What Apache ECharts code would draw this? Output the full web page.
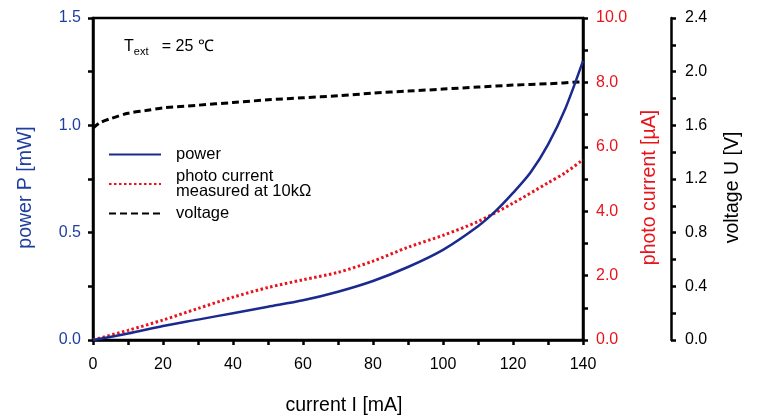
<!DOCTYPE html>
<html><head><meta charset="utf-8">
<script src="https://cdn.jsdelivr.net/npm/echarts@6/dist/echarts.min.js"></script>
<style>html,body{margin:0;padding:0;background:#fff}#c{width:759px;height:416px}</style>
</head><body><div id="c"></div>
<script>
// current I [mA]
const powerI   = [0, 10, 20, 30, 40, 50, 60, 70, 80, 90, 100, 110, 115, 120, 125, 130, 135, 140];
const powerP   = [0, 0.03, 0.065, 0.095, 0.125, 0.155, 0.185, 0.225, 0.275, 0.34, 0.42, 0.53, 0.6, 0.685, 0.78, 0.91, 1.08, 1.30];
const photoI   = [0, 10, 20, 30, 40, 50, 60, 70, 80, 90, 100, 110, 120, 130, 135, 140];
const photoA   = [0, 0.3, 0.62, 0.98, 1.33, 1.63, 1.87, 2.1, 2.45, 2.88, 3.25, 3.68, 4.25, 4.88, 5.2, 5.6];
const voltI    = [0, 2, 5, 10, 15, 20, 30, 40, 50, 60, 70, 80, 90, 100, 110, 120, 130, 140];
const voltU    = [1.58, 1.62, 1.65, 1.69, 1.71, 1.73, 1.75, 1.77, 1.79, 1.805, 1.82, 1.84, 1.855, 1.87, 1.885, 1.9, 1.91, 1.925];

const pair = (xs, ys) => xs.map((x, i) => [x, ys[i]]);
const BLUE = '#1f3f9e', NAVY = '#1b2a8f', RED = '#e8141c', FONT = 'Liberation Sans, Arial, sans-serif';
const axisLine = {show: true, lineStyle: {color: '#000', width: 2.5}};
const tick = {show: true, inside: false, length: 5, lineStyle: {color: '#000', width: 2.5}};
const minor = {show: true, splitNumber: 2, length: 5, lineStyle: {color: '#000', width: 2.5}};
const nameFont = 19.5;

const chart = echarts.init(document.getElementById('c'));
chart.setOption({
  animation: false,
  grid: {left: 93, right: 176, top: 18, bottom: 76, show: true, borderColor: '#000', borderWidth: 2.5,
         backgroundColor: 'transparent', outerBoundsMode: 'none', containLabel: false},
  textStyle: {fontFamily: FONT},
  legend: {
    orient: 'vertical', left: 103, top: 141, itemWidth: 52, itemHeight: 10, itemGap: 5,
    itemStyle: {opacity: 0},
    textStyle: {fontSize: 16.5, color: '#000', fontFamily: FONT, lineHeight: 15, padding: [0, 0, 0, 10]},
    data: ['power', 'photo current\nmeasured at 10kΩ', 'voltage']
  },
  graphic: [{
    type: 'text', left: 124, top: 39,
    style: {
      rich: {
        t: {fontSize: 16, fontFamily: FONT, fill: '#000'},
        s: {fontSize: 11, fontFamily: FONT, fill: '#000', padding: [9, 0, 0, 0]}
      },
      text: '{t|T}{s|ext}{t|   = 25 ℃}'
    }
  }],
  xAxis: {
    type: 'value', min: 0, max: 140, interval: 20,
    name: 'current I [mA]', nameLocation: 'middle', nameGap: 56,
    nameTextStyle: {fontSize: nameFont, color: '#000', fontFamily: FONT, padding: [0, 0, 0, 12]},
    axisLine, axisTick: tick, minorTick: minor, splitLine: {show: false},
    axisLabel: {fontSize: 16, color: '#000', margin: 17, fontFamily: FONT}
  },
  yAxis: [{
    type: 'value', min: 0, max: 1.5, interval: 0.5, position: 'left',
    name: 'power P [mW]', nameLocation: 'middle', nameGap: 57, nameRotate: 90,
    nameTextStyle: {fontSize: nameFont, color: BLUE, fontFamily: FONT, padding: [0, 17, 0, 0]},
    axisLine, axisTick: tick, minorTick: minor, splitLine: {show: false},
    axisLabel: {fontSize: 16, color: BLUE, margin: 12, fontFamily: FONT, formatter: v => v.toFixed(1)}
  }, {
    type: 'value', min: 0, max: 10, interval: 2, position: 'right',
    name: 'photo current [µA]', nameLocation: 'middle', nameGap: 57, nameRotate: 90,
    nameTextStyle: {fontSize: nameFont, color: RED, fontFamily: FONT, padding: [0, 17, 0, 0]},
    axisLine, axisTick: tick, minorTick: minor, splitLine: {show: false},
    axisLabel: {fontSize: 16, color: RED, margin: 13, fontFamily: FONT, formatter: v => v.toFixed(1)}
  }, {
    type: 'value', min: 0, max: 2.4, interval: 0.4, position: 'right', offset: 88,
    name: 'voltage U [V]', nameLocation: 'middle', nameGap: 52, nameRotate: 90,
    nameTextStyle: {fontSize: nameFont, color: '#000', fontFamily: FONT, padding: [0, 17, 0, 0]},
    axisLine, axisTick: tick, minorTick: minor, splitLine: {show: false},
    axisLabel: {fontSize: 16, color: '#000', margin: 14, fontFamily: FONT, formatter: v => v.toFixed(1)}
  }],
  series: [{
    name: 'power', type: 'line', yAxisIndex: 0, smooth: 0.3, symbol: 'none',
    data: pair(powerI, powerP), lineStyle: {color: NAVY, width: 2.5}, itemStyle: {color: NAVY}, z: 3
  }, {
    name: 'photo current\nmeasured at 10kΩ', type: 'line', yAxisIndex: 1, smooth: 0.3, symbol: 'none',
    data: pair(photoI, photoA), lineStyle: {color: RED, width: 3, type: [2.5, 2.5]}, itemStyle: {color: RED}, z: 2
  }, {
    name: 'voltage', type: 'line', yAxisIndex: 2, smooth: 0.3, symbol: 'none',
    data: pair(voltI, voltU), lineStyle: {color: '#000', width: 3, type: [7, 4]}, itemStyle: {color: '#000'}, z: 2
  }]
});
</script></body></html>
